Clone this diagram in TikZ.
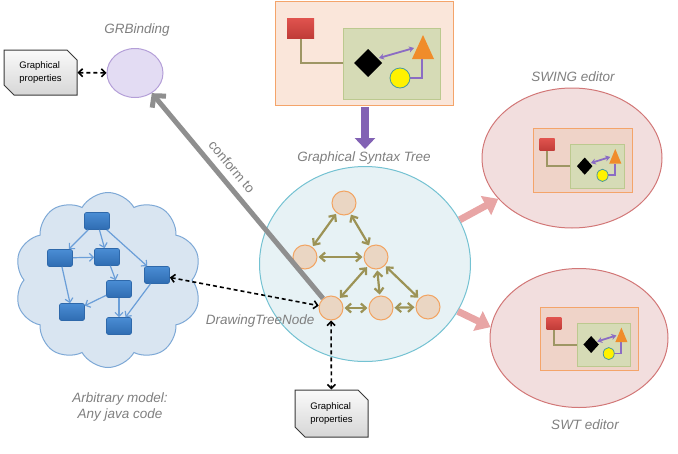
\documentclass[tikz,border=0pt]{standalone}
\usepackage{fontspec}
\setmainfont{Liberation Sans}
\usetikzlibrary{arrows.meta,shapes.geometric,shapes.symbols,shapes.misc}
\definecolor{lblgray}{HTML}{7F7F7F}
\definecolor{gbfill}{HTML}{E3DCF3}
\definecolor{gbdraw}{HTML}{B49FD8}
\definecolor{frfill}{HTML}{FAE6DA}
\definecolor{frfillb}{HTML}{EFD3C8}
\definecolor{frdraw}{HTML}{F4A46A}
\definecolor{redtop}{HTML}{E0534E}
\definecolor{redbot}{HTML}{C03C38}
\definecolor{grfill}{HTML}{D6DBB6}
\definecolor{grdraw}{HTML}{BCC98F}
\definecolor{oliveln}{HTML}{9E9664}
\definecolor{purp}{HTML}{8B6CC4}
\definecolor{tri}{HTML}{F08C2A}
\definecolor{ylwdraw}{HTML}{4A9A9A}
\definecolor{bigfill}{HTML}{E7F2F5}
\definecolor{bigdraw}{HTML}{74C2D2}
\definecolor{tnfill}{HTML}{EAD6C3}
\definecolor{tndraw}{HTML}{F2A462}
\definecolor{tedge}{HTML}{9C9356}
\definecolor{cloudfill}{HTML}{D9E5F1}
\definecolor{clouddraw}{HTML}{7DA8D6}
\definecolor{bluetop}{HTML}{4A8DD4}
\definecolor{bluebot}{HTML}{2F6CB2}
\definecolor{blueboxd}{HTML}{2E68AA}
\definecolor{bedge}{HTML}{6A9ED8}
\definecolor{edfill}{HTML}{F2DEDE}
\definecolor{eddraw}{HTML}{D27777}
\definecolor{pinkar}{HTML}{E8A5A5}
\definecolor{confgray}{HTML}{8F8F8F}
\definecolor{purparrow}{HTML}{8262B4}
\definecolor{propdraw}{HTML}{3A3A3A}
\tikzset{
  lbl/.style={font=\fontsize{13.5}{16}\selectfont\itshape, text=lblgray},
  props/.style={chamfered rectangle, chamfered rectangle corners={north east,south west},
    chamfered rectangle xsep=5pt, chamfered rectangle ysep=5pt,
    minimum width=73, minimum height=45, inner sep=0pt,
    top color=gray!4, bottom color=gray!32, draw=propdraw, line width=1,
    align=left, font=\fontsize{9.5}{12.5}\selectfont},
  tnode/.style={circle, minimum size=24, inner sep=0pt, fill=tnfill, draw=tndraw, line width=1},
  tedgestyle/.style={draw=tedge, line width=2.2, shorten >=1pt, shorten <=1pt,
    {Straight Barb[length=5pt,width=9pt]}-{Straight Barb[length=5pt,width=9pt]}},
  bbox/.style={rectangle, rounded corners=2pt, minimum width=25, minimum height=17, inner sep=0pt,
    top color=bluetop, bottom color=bluebot, draw=blueboxd, line width=0.6},
  bedgestyle/.style={draw=bedge, line width=1.2, -{Straight Barb[length=4pt,width=8pt]}},
  dasharrow/.style={draw=black, line width=1.6, dash pattern=on 4pt off 3pt,
    {Straight Barb[length=4pt,width=8pt]}-{Straight Barb[length=4pt,width=8pt]}},
  editor/.style={ellipse, inner sep=0pt, fill=edfill, draw=eddraw, line width=1},
  pinkarrow/.style={draw=pinkar, line width=7, -{Triangle[length=14pt,width=21pt]}},
  shotframe/.style={draw=frdraw, fill=frfill, line width=1},
  shot/.pic={
    \draw[shotframe] (0,0) rectangle (178,104);
    \draw[oliveln, line width=2] (26,37) |- (68,62);
    \draw[grdraw, fill=grfill, line width=1] (68,27) rectangle (165,98);
    \shade[top color=redtop, bottom color=redbot] (12,17) rectangle (39,37);
    \draw[purp, line width=1.8] (130,77) -| (147,58);
    \fill[black] (93,48) -- (107,62) -- (93,76) -- (79,62) -- cycle;
    \fill[tri] (148,34) -- (159,58) -- (137,58) -- cycle;
    \draw[purp, line width=1.8, {Stealth[length=5pt,width=6pt]}-{Stealth[length=5pt,width=6pt]}] (104,57) -- (139,47);
    \draw[fill=yellow, draw=ylwdraw, line width=0.8] (125,77) circle (10);
  }
}
\begin{document}
\begin{tikzpicture}[x=1pt,y=-1pt]
\useasboundingbox (0,0) rectangle (678,453);

% ---------- GRBinding ----------
\node[lbl] (gblbl) at (137,30) {GRBinding};
\node[ellipse, minimum width=56, minimum height=49, inner sep=0pt, fill=gbfill, draw=gbdraw, line width=1] (gb) at (135,73) {};
\node[props] (gp1) at (40.5,72.5) {Graphical\\properties};
\draw[dasharrow] (gp1) -- (gb);

% ---------- top screenshot ----------
\pic at (275,1) {shot};
\coordinate (topbot) at (365,107);
\coordinate (gsttop) at (365,149);
\draw[draw=purparrow, line width=8, -{Triangle[length=11pt,width=20pt]}] (topbot) -- (gsttop);
\node[lbl] (gstlbl) at (364,158) {Graphical Syntax Tree};

% ---------- big circle & tree ----------
\node[ellipse, minimum width=211, minimum height=195, inner sep=0pt, fill=bigfill, draw=bigdraw, line width=1] (big) at (365,264) {};
\node[tnode] (t1) at (344,203) {};
\node[tnode] (t2) at (305,257) {};
\node[tnode] (t3) at (376,257) {};
\node[tnode] (t4) at (331,308) {};
\node[tnode] (t5) at (381,308) {};
\node[tnode] (t6) at (428,307) {};
\draw[tedgestyle] (t1) -- (t2);
\draw[tedgestyle] (t1) -- (t3);
\draw[tedgestyle] (t2) -- (t3);
\draw[tedgestyle] (t3) -- (t4);
\draw[tedgestyle] (t3) -- (t5);
\draw[tedgestyle] (t3) -- (t6);
\draw[tedgestyle] (t4) -- (t5);
\draw[tedgestyle] (t5) -- (t6);
\node[lbl, anchor=east] (dtn) at (318,321) {DrawingTreeNode};

% conform to
\draw[draw=confgray, line width=5, -{Straight Barb[length=8pt,width=18pt]}] (t4) -- (gb);
\node[rotate=-50, text=lblgray, font=\fontsize{13.5}{16}\selectfont] (conf) at (232,167) {conform to};

% ---------- cloud ----------
\node[cloud, cloud puffs=10, cloud puff arc=120, aspect=1.07, minimum width=187, minimum height=175,
      inner sep=0pt, fill=cloudfill, draw=clouddraw, line width=1] (cloud) at (108,280) {};
\node[bbox] (A) at (97,221) {};
\node[bbox] (B) at (60,258) {};
\node[bbox] (C) at (107,257) {};
\node[bbox] (D) at (157,275) {};
\node[bbox] (E) at (119,289) {};
\node[bbox] (F) at (72,312) {};
\node[bbox] (G) at (119,326) {};
\draw[bedgestyle] (A) -- (B);
\draw[bedgestyle] (A) -- (C);
\draw[bedgestyle] (A) -- (D);
\draw[bedgestyle] (B) -- (C);
\draw[bedgestyle] (B) -- (F);
\draw[bedgestyle] (C) -- (E);
\draw[bedgestyle] (E) -- (F);
\draw[bedgestyle] (E) -- (G);
\draw[bedgestyle] (D) -- (G);
\node[lbl, align=center] (arb) at (120,407) {Arbitrary model:\\ Any java code};

\draw[dasharrow] (D) -- (t4);

% bottom properties
\node[props, minimum height=47] (gp2) at (331.5,413.5) {Graphical\\properties};
\draw[dasharrow] (t4) -- (gp2);

% ---------- editors ----------
\node[lbl] (swinglbl) at (573,77) {SWING editor};
\node[editor, minimum width=180, minimum height=140] (swing) at (572,158) {};
\pic[xscale=0.556, yscale=0.615, shotframe/.style={draw=frdraw, fill=frfillb, line width=0.8}] at (533,128) {shot};

\node[editor, minimum width=178, minimum height=139] (swt) at (579,338) {};
\pic[xscale=0.55, yscale=0.605, shotframe/.style={draw=frdraw, fill=frfillb, line width=0.8}] at (540,307) {shot};
\node[lbl] (swtlbl) at (585,425) {SWT editor};

\draw[pinkarrow] (big.25) -- (swing.209);
\draw[pinkarrow] (big.-27) -- (swt.173);
\end{tikzpicture}
\end{document}
